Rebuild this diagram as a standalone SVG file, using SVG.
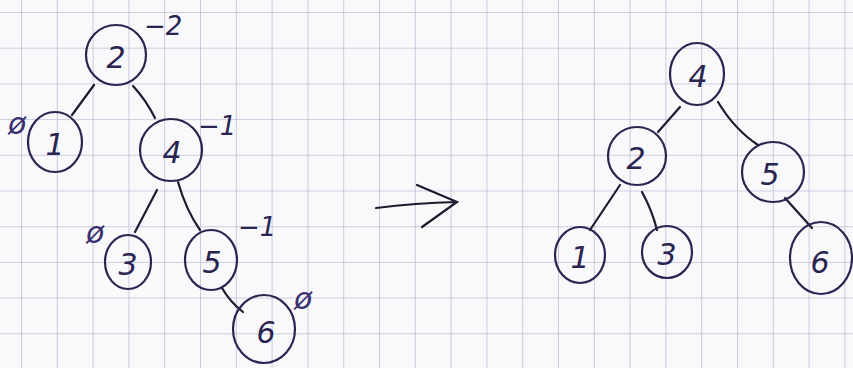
<svg xmlns="http://www.w3.org/2000/svg" width="853" height="368" viewBox="0 0 853 368">
<style>
.node{fill:none;stroke:#2a2450;stroke-width:2.2}
.lbl{font-family:"DejaVu Sans",sans-serif;font-size:30px;fill:#2a2450;text-anchor:middle;dominant-baseline:central;font-style:oblique}
.bal{font-family:"DejaVu Sans",sans-serif;font-size:26px;fill:#2a2450;font-style:oblique}
.zero{font-family:"DejaVu Sans",sans-serif;font-size:30px;fill:#3a3070;font-style:oblique}
.edge{fill:none;stroke:#1e1a30;stroke-width:2.2;stroke-linecap:round}
</style>
<defs>
<pattern id="grid" patternUnits="userSpaceOnUse" x="21" y="12" width="35.8" height="35.7">
<path d="M0 0 H35.8 M0 0 V35.7" fill="none" stroke="#bcc0d8" stroke-width="1.6"/>
</pattern>
</defs>
<rect width="853" height="368" fill="#f9f9fb"/>
<rect width="853" height="368" fill="url(#grid)"/>
<g id="connectors">
<path class="edge" d="M94 85 L72 115"/>
<path class="edge" d="M133 86 Q146 100 155 118"/>
<path class="edge" d="M157 190 L135 232"/>
<path class="edge" d="M178 182 Q186 210 200 230"/>
<path class="edge" d="M222 288 Q230 302 243 312"/>
<path class="edge" d="M376 208 Q415 203 457 202 M417 185 L457 202 L422 227"/>
<path class="edge" d="M680 107 L658 132"/>
<path class="edge" d="M718 102 Q735 130 758 145"/>
<path class="edge" d="M620 185 L590 230"/>
<path class="edge" d="M642 192 Q652 210 657 230"/>
<path class="edge" d="M785 198 L812 228"/>
</g>
<g id="L2"><ellipse class="node" cx="116" cy="55" rx="30" ry="30"/><text class="lbl" x="116" y="57">2</text><text class="bal" x="144" y="35">−2</text></g>
<g id="L1"><ellipse class="node" cx="55" cy="142" rx="27" ry="30"/><text class="lbl" x="55" y="144">1</text><text class="zero" x="8" y="134">ø</text></g>
<g id="L4"><ellipse class="node" cx="171" cy="150" rx="31" ry="31"/><text class="lbl" x="172" y="152">4</text><text class="bal" x="198" y="135">−1</text></g>
<g id="L3"><ellipse class="node" cx="128" cy="262" rx="23" ry="27"/><text class="lbl" x="128" y="264">3</text><text class="zero" x="86" y="243">ø</text></g>
<g id="L5"><ellipse class="node" cx="211" cy="260" rx="26" ry="30"/><text class="lbl" x="212" y="262">5</text><text class="bal" x="238" y="236">−1</text></g>
<g id="L6"><ellipse class="node" cx="264" cy="329" rx="31" ry="34"/><text class="lbl" x="266" y="332">6</text><text class="zero" x="294" y="309">ø</text></g>
<g id="R4"><ellipse class="node" cx="697" cy="74" rx="27" ry="31"/><text class="lbl" x="698" y="76">4</text></g>
<g id="R2"><ellipse class="node" cx="637" cy="156" rx="29" ry="29"/><text class="lbl" x="636" y="158">2</text></g>
<g id="R5"><ellipse class="node" cx="773" cy="172" rx="31" ry="30"/><text class="lbl" x="770" y="174">5</text></g>
<g id="R1"><ellipse class="node" cx="580" cy="255" rx="25" ry="28"/><text class="lbl" x="580" y="257">1</text></g>
<g id="R3"><ellipse class="node" cx="667" cy="252" rx="25" ry="26"/><text class="lbl" x="667" y="254">3</text></g>
<g id="R6"><ellipse class="node" cx="821" cy="258" rx="31" ry="36"/><text class="lbl" x="820" y="262">6</text></g>
</svg>
